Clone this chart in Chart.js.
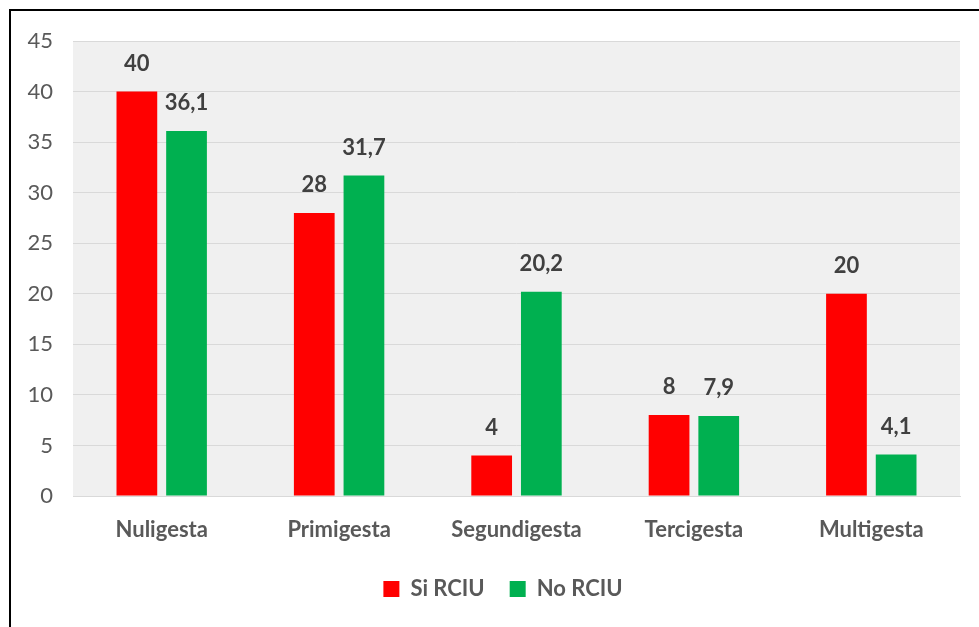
<!DOCTYPE html>
<html>
<head>
<meta charset="utf-8">
<script src="https://cdn.jsdelivr.net/npm/chart.js@4.4.1/dist/chart.umd.min.js"></script>
<style>
    html, body { margin: 0; padding: 0; background: #fff; }
    #wrap { position: relative; width: 979px; height: 627px; overflow: hidden; }
    #frame { position: absolute; left: 9px; top: 9px; width: 1000px; height: 700px; border: 2px solid #000; box-sizing: border-box; }
    canvas { position: absolute; left: 0; top: 0; }
</style>
</head>
<body>
<div id="wrap">
    <div id="frame"></div>
    <canvas id="chart" width="979" height="627"></canvas>
</div>
<script>
    "use strict";

    // Data
    const categories = ["Nuligesta", "Primigesta", "Segundigesta", "Tercigesta", "Multigesta"];
    const siRciu = [40, 28, 4, 8, 20];
    const noRciu = [36.1, 31.7, 20.2, 7.9, 4.1];
    const yTicks = [0, 5, 10, 15, 20, 25, 30, 35, 40, 45];

    const fontFamily = "Lato, 'Open Sans', sans-serif";

    // light grey plot background
    const plotBackground = {
        id: "plotBackground",
        beforeDraw(chart) {
            const { ctx, chartArea: a } = chart;
            ctx.save();
            ctx.fillStyle = "#f0f0f0";
            ctx.fillRect(a.left, a.top, a.right - a.left, a.bottom - a.top);
            ctx.restore();
        }
    };

    // center the legend under the plot area instead of the whole canvas
    const legendShift = {
        id: "legendShift",
        afterLayout(chart) {
            if (chart.legend) {
                chart.legend.left += 36;
            }
        }
    };

    // value labels above bars, decimal comma
    const valueLabels = {
        id: "valueLabels",
        afterDatasetsDraw(chart) {
            const ctx = chart.ctx;
            ctx.save();
            ctx.font = "bold 22px " + fontFamily;
            ctx.fillStyle = "#404040";
            ctx.textAlign = "center";
            ctx.textBaseline = "middle";
            chart.data.datasets.forEach((ds, i) => {
                chart.getDatasetMeta(i).data.forEach((bar, j) => {
                    const txt = String(ds.data[j]).replace(".", ",");
                    ctx.fillText(txt, bar.x, bar.y - 28);
                });
            });
            ctx.restore();
        }
    };

    new Chart(document.getElementById("chart").getContext("2d"), {
        type: "bar",
        data: {
            labels: categories,
            datasets: [
                { label: "Si RCIU", data: siRciu, backgroundColor: "#ff0000" },
                { label: "No RCIU", data: noRciu, backgroundColor: "#00b050" }
            ]
        },
        options: {
            responsive: false,
            animation: false,
            devicePixelRatio: 1,
            datasets: { bar: { categoryPercentage: 0.56, barPercentage: 0.82 } },
            layout: { padding: { left: 10, right: 19, top: 41, bottom: 17 } },
            scales: {
                x: {
                    grid: { display: false, drawTicks: false },
                    border: { display: true, color: "#d9d9d9", width: 1 },
                    ticks: { padding: 21, color: "#595959", font: { family: fontFamily, size: 22, weight: "bold" } },
                    afterFit(scale) { scale.height = 57; }
                },
                y: {
                    min: 0,
                    max: 45,
                    afterBuildTicks(scale) { scale.ticks = yTicks.map(v => ({ value: v })); },
                    grid: { color: "#d9d9d9", drawTicks: false },
                    border: { display: false },
                    ticks: { padding: 20, color: "#595959", font: { family: fontFamily, size: 22 } },
                    afterFit(scale) { scale.width = 63; }
                }
            },
            plugins: {
                legend: {
                    position: "bottom",
                    labels: {
                        boxWidth: 16,
                        boxHeight: 16,
                        padding: 25,
                        color: "#595959",
                        font: { family: fontFamily, size: 22, weight: "bold" }
                    }
                },
                tooltip: { enabled: false }
            }
        },
        plugins: [plotBackground, legendShift, valueLabels]
    });
</script>
</body>
</html>
